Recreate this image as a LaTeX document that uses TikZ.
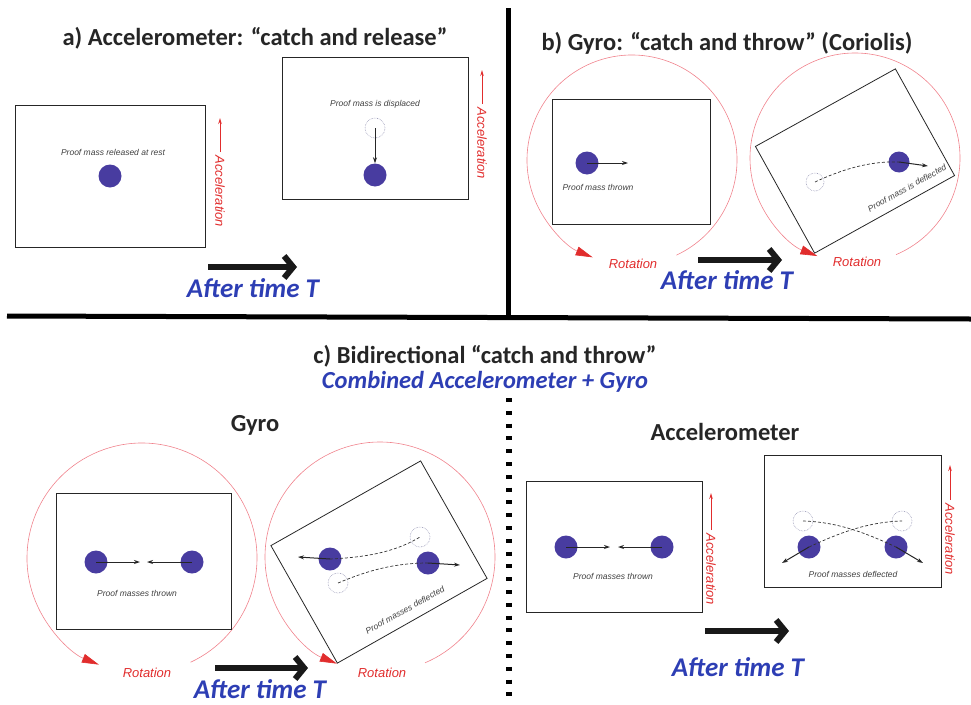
\documentclass[tikz,border=0pt]{standalone}
\usepackage{fontspec}
\setmainfont{Carlito}
\setsansfont{Liberation Sans}
\usetikzlibrary{arrows.meta}
\definecolor{massblue}{RGB}{72,60,160}
\definecolor{accred}{RGB}{225,45,45}
\definecolor{rotpink}{RGB}{240,130,140}
\definecolor{timeblue}{RGB}{45,62,180}
\definecolor{ghostgray}{RGB}{150,150,180}
\begin{document}
\begin{tikzpicture}[x=1pt, y=-1pt,
    frame/.style = {draw=black!85, line width=0.8pt, inner sep=0pt},
    ball/.style = {circle, fill=massblue, minimum size=23pt, inner sep=0pt},
    ghost/.style = {circle, draw=ghostgray, densely dotted, line width=0.6pt, minimum size=20pt, inner sep=0pt},
    throw/.style = {line width=1pt, black!85, -{Stealth[length=6pt, width=4pt]}},
    trail/.style = {black!80, line width=0.7pt, dash pattern=on 3pt off 2pt},
    accel/.style = {accred, line width=1pt, -{Stealth[length=6pt, width=3.5pt]}},
    rot/.style = {rotpink, line width=0.6pt, -{Triangle[length=17pt, width=9pt, color=accred]}},
    bigarrow/.style = {line width=6pt, black!90, -{Straight Barb[length=9pt, width=22pt]}},
    lbl/.style = {font=\sffamily\itshape\fontsize{8.5}{10}\selectfont, text=black!75, inner sep=1pt},
    acclbl/.style = {font=\sffamily\itshape\fontsize{13}{14}\selectfont, text=accred},
    title/.style = {font=\bfseries\fontsize{24.5}{28}\selectfont, text=black!85},
    after/.style = {font=\bfseries\itshape\fontsize{27}{30}\selectfont, text=timeblue, inner sep=1pt}]
\useasboundingbox (0,0) rectangle (971,704);

% a) accelerometer
\node[title] (ta) at (255,38) {a) Accelerometer: “catch and release”};
\node[frame, minimum width=190pt, minimum height=142pt] (a1) at (110,176) {};
\node[lbl] (a1t) at (113,152) {Proof mass released at rest};
\node[ball] (a1m) at (110,176) {};
\node[acclbl, rotate=-90, anchor=west] (a1acc) at (220,152) {Acceleration};
\coordinate (a1acce) at (220,118);
\draw[accel] (a1acc.west) -- (a1acce);

\node[frame, minimum width=186pt, minimum height=142pt] (a2) at (375,128) {};
\node[lbl] (a2t) at (375,104) {Proof mass is displaced};
\node[ghost] (a2g) at (375,128) {};
\node[ball] (a2m) at (375,175) {};
\draw[throw] (a2g.center) -- (a2m.north);
\node[acclbl, rotate=-90, anchor=west] (a2acc) at (482,104) {Acceleration};
\coordinate (a2acce) at (482,70);
\draw[accel] (a2acc.west) -- (a2acce);

\coordinate (ta1) at (208,267);
\coordinate (ta2) at (297,267);
\draw[bigarrow] (ta1) -- (ta2);
\node[after] (at) at (253,288) {After time T};

% dividers
\coordinate (h1) at (7,316);
\coordinate (h2) at (971,319);
\coordinate (v1) at (508,8);
\coordinate (v2) at (508,316);
\draw[line width=5pt] (h1) -- (h2);
\draw[line width=5pt] (v1) -- (v2);

% b) gyro
\node[title] (tb) at (727,43) {b) Gyro: “catch and throw” (Coriolis)};
\coordinate (b1c) at (632,160);
\draw[rot] (b1c) ++(65:105) arc[start angle=65, end angle=-248, radius=105];
\node[acclbl] (b1r) at (633,264) {Rotation};
\node[frame, minimum width=158pt, minimum height=125pt] (b1) at (631,162) {};
\node[ball] (b1m) at (587,163) {};
\coordinate (b1e) at (628,163);
\draw[throw] (b1m.center) -- (b1e);
\node[lbl] (b1t) at (598,187) {Proof mass thrown};

\coordinate (b2c) at (855,158);
\draw[rot] (b2c) ++(67:105) arc[start angle=67, end angle=-249, radius=105];
\node[acclbl] (b2r) at (857,262) {Rotation};
\node[frame, minimum width=160pt, minimum height=122pt, rotate=29] (b2) at (855,161) {};
\node[ghost, minimum size=18pt] (b2g) at (815,182) {};
\node[ball, minimum size=21pt] (b2m) at (899,162) {};
\draw[trail] (b2g.center) .. controls (845,168) and (872,161) .. (b2m.center);
\coordinate (b2e) at (928,166);
\draw[throw] (b2m.center) -- (b2e);
\node[lbl, rotate=29] (b2t) at (907,188) {Proof mass is deflected};

\coordinate (tb1) at (698,260);
\coordinate (tb2) at (782,260);
\draw[bigarrow] (tb1) -- (tb2);
\node[after] (bt) at (727,280) {After time T};

% c) combined
\node[title] (tc) at (485,356) {c) Bidirectional “catch and throw”};
\node[title, text=timeblue, font=\bfseries\itshape\fontsize{24.5}{28}\selectfont] (tc2) at (485,382) {Combined Accelerometer + Gyro};
\coordinate (d1) at (509,398);
\coordinate (d2) at (509,704);
\draw[line width=6pt, dash pattern=on 4pt off 8.8pt] (d1) -- (d2);

% c) gyro half
\node[title] (tg) at (255,425) {Gyro};
\coordinate (c1c) at (142,558);
\draw[rot] (c1c) ++(65:115) arc[start angle=65, end angle=-248, radius=115];
\node[acclbl] (c1r) at (147,673) {Rotation};
\node[frame, minimum width=175pt, minimum height=136pt] (c1) at (143.5,561) {};
\node[ball] (c1m) at (96,562) {};
\node[ball] (c1n) at (192,562) {};
\coordinate (c1me) at (140,562);
\coordinate (c1ne) at (147,562);
\draw[throw] (c1m.center) -- (c1me);
\draw[throw] (c1n.center) -- (c1ne);
\node[lbl] (c1t) at (137,593) {Proof masses thrown};

\coordinate (c2c) at (380,557);
\draw[rot] (c2c) ++(67:115) arc[start angle=67, end angle=-248, radius=115];
\node[acclbl] (c2r) at (382,673) {Rotation};
\node[frame, minimum width=172pt, minimum height=135pt, rotate=29.5] (c2) at (379,562) {};
\node[ghost] (c2g) at (420,537) {};
\node[ghost] (c2h) at (338,583) {};
\node[ball] (c2m) at (330,559) {};
\node[ball] (c2n) at (428,563) {};
\draw[trail] (c2m.center) .. controls (375,557) and (400,549) .. (c2g.center);
\draw[trail] (c2h.center) .. controls (362,573) and (390,563) .. (c2n.center);
\coordinate (c2me) at (298,557);
\coordinate (c2ne) at (460,565);
\draw[throw] (c2m.center) -- (c2me);
\draw[throw] (c2n.center) -- (c2ne);
\node[lbl, rotate=29] (c2t) at (405,610) {Proof masses deflected};

\coordinate (tc1) at (215,668);
\coordinate (tc2e) at (308,668);
\draw[bigarrow] (tc1) -- (tc2e);
\node[after] (ct) at (260,689) {After time T};

% c) accelerometer half
\node[title] (tx) at (725,432) {Accelerometer};
\node[frame, minimum width=176pt, minimum height=131pt] (x1) at (614,546.5) {};
\node[ball] (x1m) at (566,547) {};
\node[ball] (x1n) at (662,547) {};
\coordinate (x1me) at (610,547);
\coordinate (x1ne) at (618,547);
\draw[throw] (x1m.center) -- (x1me);
\draw[throw] (x1n.center) -- (x1ne);
\node[lbl] (x1t) at (613,576) {Proof masses thrown};
\node[acclbl, rotate=-90, anchor=west] (x1acc) at (711,530) {Acceleration};
\coordinate (x1acce) at (711,493);
\draw[accel] (x1acc.west) -- (x1acce);

\node[frame, minimum width=177pt, minimum height=132pt] (x2) at (852.5,521) {};
\node[ghost] (x2g) at (803,521) {};
\node[ghost] (x2h) at (902,521) {};
\node[ball] (x2m) at (809,547) {};
\node[ball] (x2n) at (896,547) {};
\draw[trail] (x2g.center) .. controls (840,522) and (870,535) .. (x2n.center);
\draw[trail] (x2m.center) .. controls (835,535) and (865,522) .. (x2h.center);
\coordinate (x2me) at (782,563);
\coordinate (x2ne) at (923,563);
\draw[throw] (x2m.center) -- (x2me);
\draw[throw] (x2n.center) -- (x2ne);
\node[lbl] (x2t) at (853,574) {Proof masses deflected};
\node[acclbl, rotate=-90, anchor=west] (x2acc) at (950,500) {Acceleration};
\coordinate (x2acce) at (950,465);
\draw[accel] (x2acc.west) -- (x2acce);

\coordinate (tx1) at (705,631);
\coordinate (tx2) at (789,631);
\draw[bigarrow] (tx1) -- (tx2);
\node[after] (xt) at (738,667) {After time T};
\end{tikzpicture}
\end{document}
